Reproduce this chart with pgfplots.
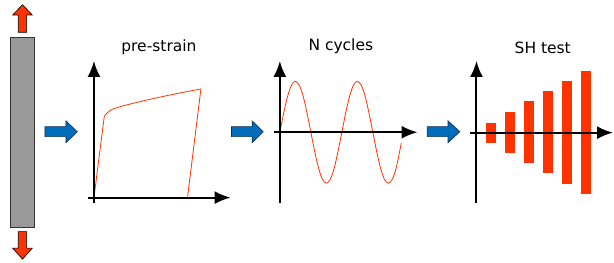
\documentclass[border=0pt]{standalone}
\usepackage{pgfplots}
\pgfplotsset{compat=1.18}
\usepackage{fontspec}
\setmainfont{DejaVu Sans}
\usetikzlibrary{arrows.meta}
\definecolor{tred}{RGB}{255,51,0}
\definecolor{tblue}{RGB}{0,108,188}
\definecolor{tblueedge}{RGB}{20,50,80}
\definecolor{tgray}{RGB}{153,153,153}
\begin{document}
\begin{tikzpicture}
\begin{axis}[
  hide axis, scale only axis, width=614pt, height=263pt,
  xmin=0, xmax=614, ymin=0, ymax=263, y dir=reverse,
  clip=false,
  axarrow/.style={-{Latex[length=16pt,width=13pt]}, line width=2pt, black},
]
% bounding box
\addplot[draw=none] coordinates {(0,0) (614,263)};
% specimen
\addplot[fill=tgray, draw=black!80, line width=0.8pt] coordinates {(10.7,37.3) (34.3,37.3) (34.3,227.3) (10.7,227.3)} -- cycle;
% red pull arrows
\addplot[fill=tred, draw=black, line width=0.6pt] coordinates {(18.3,32.3) (18.3,15) (12.7,15) (22.5,4.7) (32.3,15) (26.7,15) (26.7,32.3)} -- cycle;
\addplot[fill=tred, draw=black, line width=0.6pt] coordinates {(18.3,231.7) (26.7,231.7) (26.7,248.3) (32.3,248.3) (22.5,259.3) (12.7,248.3) (18.3,248.3)} -- cycle;
% blue arrows
\addplot[fill=tblue, draw=tblueedge, line width=0.7pt] coordinates {(45,126.7) (66,126.7) (66,121) (77.3,131.8) (66,142.7) (66,136.7) (45,136.7)} -- cycle;
\addplot[fill=tblue, draw=tblueedge, line width=0.7pt] coordinates {(231.7,126.7) (252.3,126.7) (252.3,121) (263.3,131.8) (252.3,142.7) (252.3,136.7) (231.7,136.7)} -- cycle;
\addplot[fill=tblue, draw=tblueedge, line width=0.7pt] coordinates {(427.3,126.7) (448.3,126.7) (448.3,121) (460,131.8) (448.3,142.7) (448.3,136.7) (427.3,136.7)} -- cycle;
% chart 1: pre-strain curve
\addplot[tred, line width=0.8pt] coordinates {(94,197.7) (104.3,116.7)};
\addplot[tred, line width=0.8pt, smooth] coordinates {(104.3,116.7) (106.5,113.6) (109.5,111.1) (113.3,109.0) (125,105.4) (150,99.4) (175,94.0) (201,89)};
\addplot[tred, line width=0.8pt] coordinates {(201,89) (187.7,196.7)};
% chart 2: cycles
\addplot[tred, line width=0.8pt, smooth] coordinates {
(280.0,132.3) (283.9,112.8) (287.8,96.2) (291.6,85.2) (295.5,81.3) (299.4,85.2) (303.3,96.2) (307.1,112.8)
(311.0,132.3) (314.9,151.8) (318.8,168.4) (322.6,179.4) (326.5,183.3) (330.4,179.4) (334.3,168.4) (338.1,151.8)
(342.0,132.3) (345.9,112.8) (349.8,96.2) (353.6,85.2) (357.5,81.3) (361.4,85.2) (365.3,96.2) (369.1,112.8)
(373.0,132.3) (376.9,151.8) (380.8,168.4) (384.6,179.4) (388.5,183.3) (392.4,179.4) (396.3,168.4) (401.5,143.0)};
% chart 3: SH test bars
\addplot[fill=tred, draw=none] coordinates {(486,123.3) (496,123.3) (496,142.7) (486,142.7)} -- cycle;
\addplot[fill=tred, draw=none] coordinates {(505,112.3) (515,112.3) (515,152.7) (505,152.7)} -- cycle;
\addplot[fill=tred, draw=none] coordinates {(524.3,101) (534,101) (534,162.7) (524.3,162.7)} -- cycle;
\addplot[fill=tred, draw=none] coordinates {(543.3,91) (553,91) (553,172.7) (543.3,172.7)} -- cycle;
\addplot[fill=tred, draw=none] coordinates {(562.3,81) (572,81) (572,183.7) (562.3,183.7)} -- cycle;
\addplot[fill=tred, draw=none] coordinates {(581.3,71) (591,71) (591,193.7) (581.3,193.7)} -- cycle;
% axes of the three small charts
\addplot[axarrow] coordinates {(94,203) (94,61)};
\addplot[axarrow] coordinates {(88.3,197.7) (230.7,197.7)};
\addplot[axarrow] coordinates {(280,203) (280,61)};
\addplot[axarrow] coordinates {(274.3,132.3) (417.7,132.3)};
\addplot[axarrow] coordinates {(476.7,203) (476.7,61)};
\addplot[axarrow] coordinates {(470.7,132.7) (613.3,132.7)};
% titles
\node[anchor=base, inner sep=0pt, font=\fontsize{15.5}{18}\selectfont] at (axis cs:159,51.7) {pre-strain};
\node[anchor=base, inner sep=0pt, font=\fontsize{15.5}{18}\selectfont] at (axis cs:341,51) {N cycles};
\node[anchor=base, inner sep=0pt, font=\fontsize{15.5}{18}\selectfont] at (axis cs:543,54) {SH test};
\end{axis}
\end{tikzpicture}
\end{document}
